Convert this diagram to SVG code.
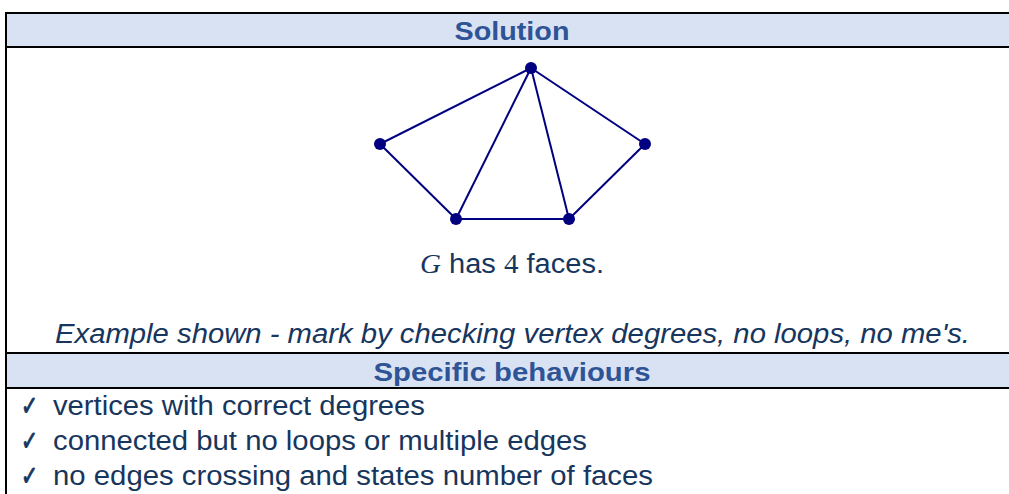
<svg xmlns="http://www.w3.org/2000/svg" width="1009" height="494" viewBox="0 0 1009 494">
<style>
.hdr{fill:#D9E2F3}
.rule{stroke:#000;stroke-width:2;fill:none}
.htxt{font-family:"Liberation Sans",Arial,sans-serif;font-weight:bold;font-size:26px;fill:#2F5496;text-anchor:middle}
.body{font-family:"Liberation Sans",Arial,sans-serif;font-size:27px;fill:#17365D}
.chk{font-family:"DejaVu Sans",sans-serif;font-size:27px;fill:#17365D;stroke:#17365D;stroke-width:1}
.edge{stroke:#000080;stroke-width:2;fill:none}
.vtx{fill:#000080}
</style>
<rect width="1009" height="494" fill="#fff"/>
<g id="table">
<rect class="hdr" x="6" y="13" width="1003" height="34"/>
<rect class="hdr" x="6" y="353" width="1003" height="35"/>
<line class="rule" x1="6" y1="13" x2="1009" y2="13"/>
<line class="rule" x1="6" y1="47" x2="1009" y2="47"/>
<line class="rule" x1="6" y1="353" x2="1009" y2="353"/>
<line class="rule" x1="6" y1="388" x2="1009" y2="388"/>
<line class="rule" x1="6" y1="12" x2="6" y2="494"/>
</g>
<g id="solution-header"><text class="htxt" x="512" y="40" textLength="115" lengthAdjust="spacingAndGlyphs">Solution</text></g>
<g id="connectors">
<line class="edge" x1="531" y1="68" x2="380" y2="144"/>
<line class="edge" x1="531" y1="68" x2="456" y2="219"/>
<line class="edge" x1="531" y1="68" x2="569" y2="219"/>
<line class="edge" x1="531" y1="68" x2="645" y2="144"/>
<line class="edge" x1="380" y1="144" x2="456" y2="219"/>
<line class="edge" x1="456" y1="219" x2="569" y2="219"/>
<line class="edge" x1="569" y1="219" x2="645" y2="144"/>
</g>
<g id="v-top"><circle class="vtx" cx="531" cy="68" r="6"/></g>
<g id="v-left"><circle class="vtx" cx="380" cy="144" r="6"/></g>
<g id="v-right"><circle class="vtx" cx="645" cy="144" r="6"/></g>
<g id="v-bl"><circle class="vtx" cx="456" cy="219" r="6"/></g>
<g id="v-br"><circle class="vtx" cx="569" cy="219" r="6"/></g>
<g id="faces-text"><text class="body" x="420" y="273" textLength="184" lengthAdjust="spacingAndGlyphs"><tspan font-family="'Liberation Serif',serif" font-style="italic">G</tspan> has <tspan font-family="'Liberation Serif',serif">4</tspan> faces.</text></g>
<g id="example-text"><text class="body" x="55" y="343" font-style="italic" textLength="915" lengthAdjust="spacingAndGlyphs">Example shown - mark by checking vertex degrees, no loops, no me's.</text></g>
<g id="behaviours-header"><text class="htxt" x="512" y="381" textLength="277" lengthAdjust="spacingAndGlyphs">Specific behaviours</text></g>
<g id="row1"><text class="chk" x="21" y="415" textLength="17" lengthAdjust="spacingAndGlyphs">✓</text><text class="body" x="53" y="415" textLength="372" lengthAdjust="spacingAndGlyphs">vertices with correct degrees</text></g>
<g id="row2"><text class="chk" x="21" y="450" textLength="17" lengthAdjust="spacingAndGlyphs">✓</text><text class="body" x="53" y="450" textLength="534" lengthAdjust="spacingAndGlyphs">connected but no loops or multiple edges</text></g>
<g id="row3"><text class="chk" x="21" y="485" textLength="17" lengthAdjust="spacingAndGlyphs">✓</text><text class="body" x="53" y="485" textLength="600" lengthAdjust="spacingAndGlyphs">no edges crossing and states number of faces</text></g>
</svg>
